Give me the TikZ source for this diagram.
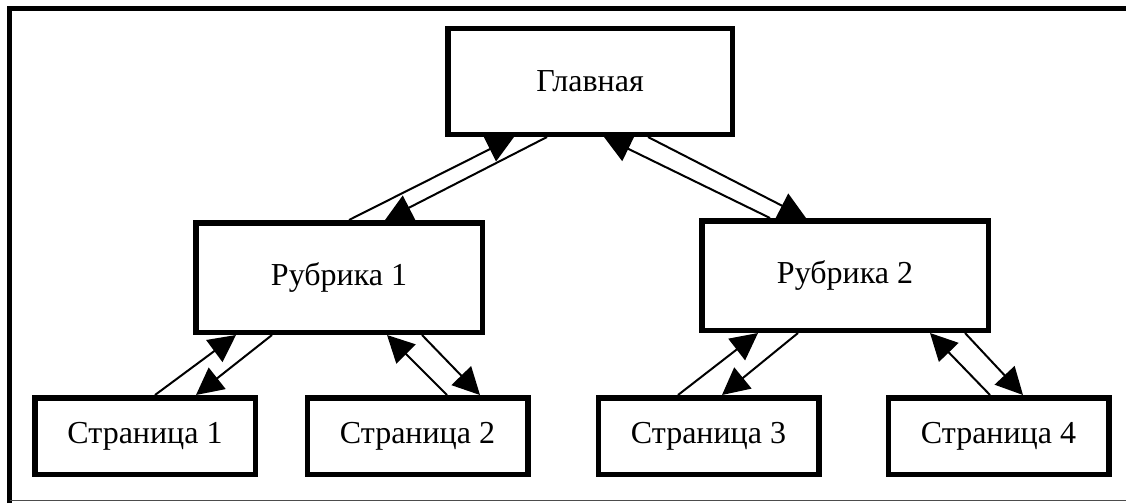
\documentclass[tikz,border=0pt]{standalone}
\usepackage{fontspec}
\setmainfont{Liberation Serif}
\usetikzlibrary{arrows.meta,backgrounds}

\tikzset{
  box/.style={draw, line width=5.5pt, fill=white, rectangle, inner sep=0pt,
              font=\fontsize{32}{38}\selectfont},
  bigbox/.style={box, minimum width=286.5pt, minimum height=109.5pt},
  pagebox/.style={box, minimum width=220.5pt, minimum height=76.5pt},
  link/.style={line width=2pt, -{Triangle[length=27pt,width=27pt]}},
}

\begin{document}
\begin{tikzpicture}[x=1pt,y=-1pt]
  \useasboundingbox (0,0) rectangle (1126,503);

  % outer frame
  \draw[line width=5pt] (9.5,503) -- (9.5,8.5) -- (1126,8.5);
  \draw[line width=1.2pt, black!70] (9.5,500.5) -- (1126,500.5);

  % boxes
  \node[box, minimum width=284.5pt, minimum height=105.5pt] (g) at (590,81.5) {Главная};
  \node[bigbox] (r1) at (339,277.5) {Рубрика 1};
  \node[bigbox] (r2) at (845,275.5) {Рубрика 2};
  \node[pagebox] (s1) at (145,436) {Страница 1};
  \node[pagebox] (s2) at (417.5,436) {Страница 2};
  \node[pagebox] (s3) at (708.5,436) {Страница 3};
  \node[pagebox] (s4) at (998.5,436) {Страница 4};

  % links, each pair: child -> parent and parent -> child
  \begin{pgfonlayer}{background}
    \draw[link] ([xshift=10pt]r1.north) -- ([xshift=-76pt]g.south);
    \draw[link] ([xshift=-43pt]g.south) -- ([xshift=46pt]r1.north);
    \draw[link] ([xshift=-75pt]r2.north) -- ([xshift=14pt]g.south);
    \draw[link] ([xshift=58pt]g.south) -- ([xshift=-39pt]r2.north);

    \draw[link] ([xshift=10pt]s1.north) -- ([xshift=-103pt]r1.south);
    \draw[link] ([xshift=-67pt]r1.south) -- ([xshift=51pt]s1.north);
    \draw[link] ([xshift=29.5pt]s2.north) -- ([xshift=48pt]r1.south);
    \draw[link] ([xshift=83pt]r1.south) -- ([xshift=62.5pt]s2.north);

    \draw[link] ([xshift=-30.5pt]s3.north) -- ([xshift=-87pt]r2.south);
    \draw[link] ([xshift=-47pt]r2.south) -- ([xshift=13.5pt]s3.north);
    \draw[link] ([xshift=-8.5pt]s4.north) -- ([xshift=85pt]r2.south);
    \draw[link] ([xshift=120pt]r2.south) -- ([xshift=24.5pt]s4.north);
  \end{pgfonlayer}
\end{tikzpicture}
\end{document}
